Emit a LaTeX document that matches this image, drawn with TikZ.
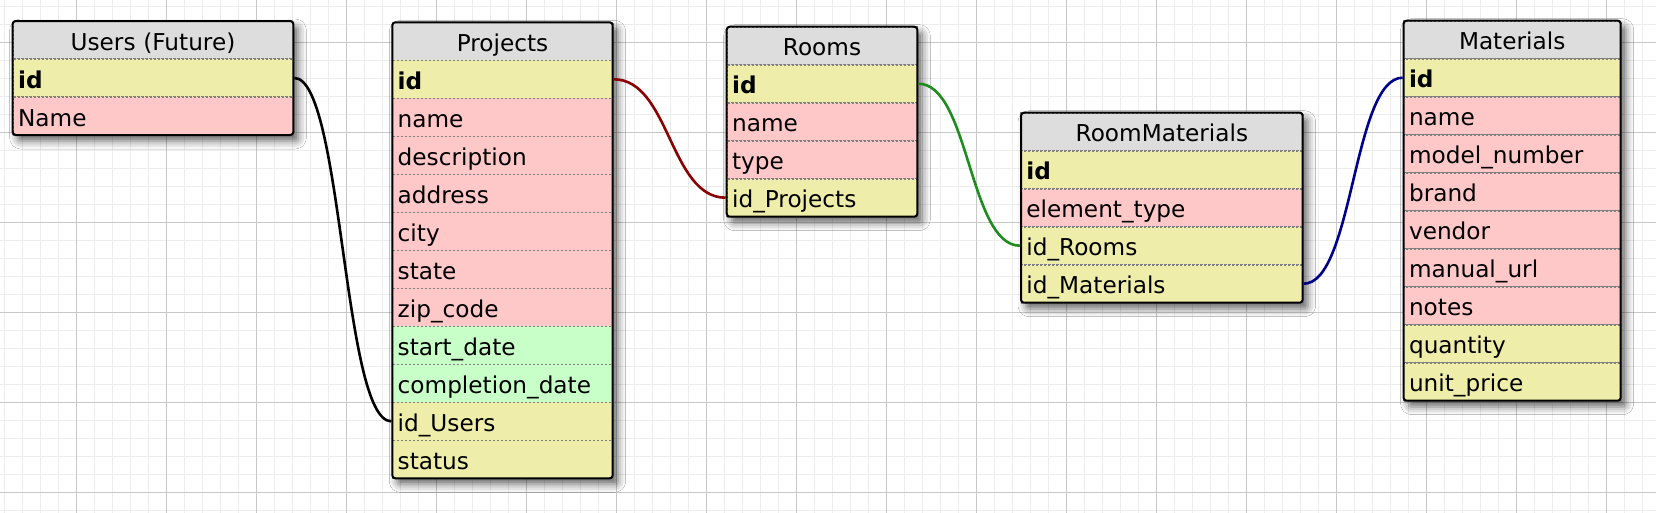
\documentclass[tikz,border=0pt]{standalone}
\usepackage{fontspec}
\setmainfont{DejaVu Sans}
\usepackage{tikz}
\usetikzlibrary{backgrounds,fit,shadows.blur}

\definecolor{hdrgray}{RGB}{221,221,221}
\definecolor{keyyellow}{RGB}{238,238,170}
\definecolor{txtpink}{RGB}{255,200,200}
\definecolor{dategreen}{RGB}{200,255,200}
\definecolor{fldline}{RGB}{128,128,128}
\definecolor{minorgrid}{RGB}{236,236,236}
\definecolor{majorgrid}{RGB}{200,200,200}
\definecolor{linkred}{RGB}{139,0,0}
\definecolor{linkgreen}{RGB}{30,140,30}
\definecolor{linkblue}{RGB}{0,0,139}

\tikzset{
  fld/.style={draw=fldline, dash pattern=on 2pt off 2pt, line width=1.6pt, fill=#1, outer sep=0pt,
    inner xsep=5.4pt, inner ysep=0pt, minimum height=38pt, text height=22pt, text depth=1.6pt,
    align=left, anchor=north},
  hdr/.style={fld=hdrgray, align=center},
  tblbox/.style={draw=black, line width=2pt, rounded corners=3pt, inner sep=0pt},
  tblshade/.style={fill=white, inner sep=0pt, rounded corners=3pt,
    blur shadow={shadow xshift=5pt, shadow yshift=-6pt, shadow blur radius=8pt, shadow opacity=60}},
  lnk/.style={line width=2.6pt, shorten <=1pt, shorten >=1pt}
}

\begin{document}
\begin{tikzpicture}[x=1pt, y=-1pt, font=\fontsize{23.2}{28}\selectfont]
 \useasboundingbox (0,0) rectangle (1656,512);

 \begin{scope}[on background layer]
  \fill[white] (0,0) rectangle (1656,512);
  \draw[step=18pt, color=minorgrid, line width=1.5pt, shift={(4.7,6.7)}] (-18,520) grid (1670,-18);
  \draw[step=90pt, color=majorgrid, line width=1.5pt, shift={(76.7,42.7)}] (-90,480) grid (1600,-90);
 \end{scope}

 \begin{scope}[every node/.append style={text width=269.8pt}]
  \draw (153,21) node[hdr] (us-h) {Users (Future)};
    \draw (153,59) node[fld=keyyellow] (us-id) {\textbf{id}};
    \draw (153,97) node[fld=txtpink] (us-nm) {Name};
  \node[tblbox, fit=(us-h)(us-nm)] (us) {};
 \end{scope}

 \begin{scope}[every node/.append style={text width=209.6pt}]
  \draw (502.5,22.3) node[hdr] (pr-h) {Projects};
    \draw (502.5,60.3) node[fld=keyyellow] (pr-id) {\textbf{id}};
    \draw (502.5,98.3) node[fld=txtpink] (pr-nm) {name};
    \draw (502.5,136.3) node[fld=txtpink] (pr-desc) {description};
    \draw (502.5,174.3) node[fld=txtpink] (pr-addr) {address};
    \draw (502.5,212.3) node[fld=txtpink] (pr-city) {city};
    \draw (502.5,250.3) node[fld=txtpink] (pr-state) {state};
    \draw (502.5,288.3) node[fld=txtpink] (pr-zip) {zip\_code};
    \draw (502.5,326.3) node[fld=dategreen] (pr-start) {start\_date};
    \draw (502.5,364.3) node[fld=dategreen] (pr-done) {completion\_date};
    \draw (502.5,402.3) node[fld=keyyellow] (pr-usr) {id\_Users};
    \draw (502.5,440.3) node[fld=keyyellow] (pr-st) {status};
  \node[tblbox, fit=(pr-h)(pr-st)] (pr) {};
 \end{scope}

 \begin{scope}[every node/.append style={text width=179.8pt}]
  \draw (822,26.7) node[hdr] (rm-h) {Rooms};
    \draw (822,64.7) node[fld=keyyellow] (rm-id) {\textbf{id}};
    \draw (822,102.7) node[fld=txtpink] (rm-nm) {name};
    \draw (822,140.7) node[fld=txtpink] (rm-type) {type};
    \draw (822,178.7) node[fld=keyyellow] (rm-prj) {id\_Projects};
  \node[tblbox, fit=(rm-h)(rm-prj)] (rm) {};
 \end{scope}

 \begin{scope}[every node/.append style={text width=270.9pt}]
  \draw (1161.85,112.7) node[hdr] (rmt-h) {RoomMaterials};
    \draw (1161.85,150.7) node[fld=keyyellow] (rmt-id) {\textbf{id}};
    \draw (1161.85,188.7) node[fld=txtpink] (rmt-el) {element\_type};
    \draw (1161.85,226.7) node[fld=keyyellow] (rmt-rm) {id\_Rooms};
    \draw (1161.85,264.7) node[fld=keyyellow] (rmt-mat) {id\_Materials};
  \node[tblbox, fit=(rmt-h)(rmt-mat)] (rmt) {};
 \end{scope}

 \begin{scope}[every node/.append style={text width=206.3pt}]
  \draw (1512.15,20.7) node[hdr] (ma-h) {Materials};
    \draw (1512.15,58.7) node[fld=keyyellow] (ma-id) {\textbf{id}};
    \draw (1512.15,96.7) node[fld=txtpink] (ma-nm) {name};
    \draw (1512.15,134.7) node[fld=txtpink] (ma-model) {model\_number};
    \draw (1512.15,172.7) node[fld=txtpink] (ma-brand) {brand};
    \draw (1512.15,210.7) node[fld=txtpink] (ma-vend) {vendor};
    \draw (1512.15,248.7) node[fld=txtpink] (ma-url) {manual\_url};
    \draw (1512.15,286.7) node[fld=txtpink] (ma-notes) {notes};
    \draw (1512.15,324.7) node[fld=keyyellow] (ma-qty) {quantity};
    \draw (1512.15,362.7) node[fld=keyyellow] (ma-price) {unit\_price};
  \node[tblbox, fit=(ma-h)(ma-price)] (ma) {};
 \end{scope}

 \begin{scope}[on background layer]
  \node[tblshade, fit=(us-h)(us-nm)] (us-sh) {};
  \node[tblshade, fit=(pr-h)(pr-st)] (pr-sh) {};
  \node[tblshade, fit=(rm-h)(rm-prj)] (rm-sh) {};
  \node[tblshade, fit=(rmt-h)(rmt-mat)] (rmt-sh) {};
  \node[tblshade, fit=(ma-h)(ma-price)] (ma-sh) {};
 \end{scope}

     \path[lnk, color=black] (us-id) edge[out=0, in=180, distance=49.5pt] (pr-usr);
     \path[lnk, color=linkred] (pr-id) edge[out=0, in=180, distance=57pt] (rm-prj);
     \path[lnk, color=linkgreen] (rm-id) edge[out=0, in=180, distance=51.9pt] (rmt-rm);
     \path[lnk, color=linkblue] (rmt-mat) edge[out=0, in=180, distance=50.5pt] (ma-id);

\end{tikzpicture}
\end{document}
